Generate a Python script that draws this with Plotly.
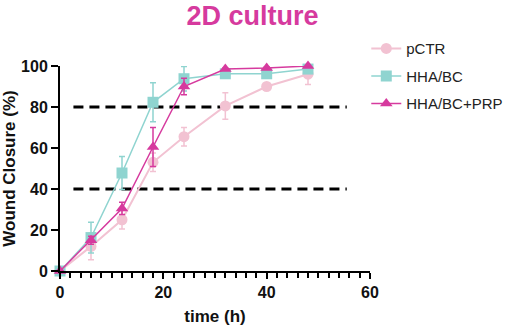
import plotly.graph_objects as go

time_h = [0, 6, 12, 18, 24, 32, 40, 48]

pctr = [0, 12, 25, 53, 65.5, 80.5, 90, 96]
pctr_err = [0, 6.5, 4.5, 4.5, 4.5, 6.5, 1, 5]

hha_bc = [0, 16.3, 47.8, 82.3, 93.8, 96.2, 96.2, 98.5]
hha_bc_err = [0, 7.5, 8, 9.5, 6, 0.5, 0.5, 1]

hha_bc_prp = [0, 15, 30.5, 60.5, 90, 98.5, 99, 100]
hha_bc_prp_err = [0, 2, 3, 9.5, 4, 0.5, 0.5, 0.5]

names = ["pCTR", "HHA/BC", "HHA/BC+PRP"]
thresholds = [40, 80]
thr_x = [2.6, 55.5]

PINK = "#F2C2D2"
TEAL = "#8FD4D0"
MAG = "#D63A9E"

series = [
    (names[0], pctr, pctr_err, PINK, "circle", 11, 2),
    (names[1], hha_bc, hha_bc_err, TEAL, "square", 11, 1.5),
    (names[2], hha_bc_prp, hha_bc_prp_err, MAG, "triangle-up", 11, 1.5),
]

fig = go.Figure()
for i, (nm, ys, es, col, sym, sz, lw) in enumerate(series):
    fig.add_trace(go.Scatter(
        x=time_h, y=ys, name=nm, mode="lines+markers",
        line=dict(color=col, width=lw),
        marker=dict(color=col, symbol=sym, size=sz),
        error_y=dict(type="data", array=es, visible=True, color=col, thickness=1.5, width=3),
        cliponaxis=False, legendgroup=nm,
    ))

for t in thresholds:
    fig.add_shape(type="line", x0=thr_x[0], x1=thr_x[1], y0=t, y1=t, xref="x", yref="y",
                  line=dict(color="black", width=3, dash="10px,6px"), layer="below")

FAM = "Arial, Liberation Sans, sans-serif"
AX_FONT = dict(family=FAM, size=16, color="#111", weight="bold")
fig.update_layout(
    width=505, height=327,
    margin=dict(l=60, r=135, t=66, b=56, autoexpand=False),
    plot_bgcolor="white", paper_bgcolor="white",
    title=dict(text="2D culture", x=0.5, xanchor="center", y=0.951, yanchor="middle",
               yref="container", font=dict(family=FAM, size=27, color=MAG, weight="bold")),
    legend=dict(x=0.988, xanchor="left", y=1.165, yanchor="top", traceorder="grouped", tracegroupgap=5,
                font=dict(family=FAM, size=15, color="#222"),
                bgcolor="rgba(0,0,0,0)"),
    xaxis=dict(range=[0, 60], tickvals=[0, 20, 40, 60], showline=True, linecolor="black", linewidth=2,
               ticks="outside", ticklen=6, tickwidth=2, tickcolor="black", showgrid=False, zeroline=False,
               minor=dict(dtick=2, ticks="outside", ticklen=5, tickwidth=1.5, tickcolor="black", showgrid=False),
               tickfont=AX_FONT, automargin=False,
               title=dict(text="time (h)", font=dict(family=FAM, size=17, color="#111", weight="bold"), standoff=10)),
    yaxis=dict(range=[0, 100], tickvals=[0, 20, 40, 60, 80, 100], showline=True, linecolor="black", linewidth=2,
               ticks="outside", ticklen=7, tickwidth=2, tickcolor="black", showgrid=False, zeroline=False,
               tickfont=AX_FONT, automargin=False,
               title=dict(text="Wound Closure (%)", font=dict(family=FAM, size=17, color="#111", weight="bold"), standoff=6)),
)

fig.write_html("out.html", config={"displayModeBar": False},
               post_script="document.body.style.margin='0';")
